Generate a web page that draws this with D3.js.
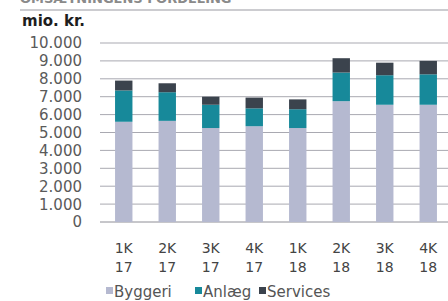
<html>
<head>
  <title>Omsætning - stablede søjler</title>
  <script src="https://d3js.org/d3.v7.min.js"></script>
  <style>
    body {
      margin: 0;
      background: #ffffff;
    }

    svg text {
      font-family: "DejaVu Sans", sans-serif;
    }
  </style>
</head>

<body>
  <svg id="chart" width="448" height="301"></svg>

  <script>
    // data (mio. kr.)
    const quarters = ["1K", "2K", "3K", "4K", "1K", "2K", "3K", "4K"];
    const years = ["17", "17", "17", "17", "18", "18", "18", "18"];
    const byggeri = [5600, 5650, 5250, 5350, 5250, 6750, 6550, 6550];
    const anlaeg = [1750, 1600, 1300, 1000, 1050, 1600, 1650, 1700];
    const services = [550, 500, 450, 600, 550, 800, 700, 750];
    const seriesNames = ["Byggeri", "Anlæg", "Services"];
    const yTicks = [0, 1000, 2000, 3000, 4000, 5000, 6000, 7000, 8000, 9000, 10000];

    const color = d3.scaleOrdinal()
      .domain(seriesNames)
      .range(["#b5b9d0", "#17899a", "#3b434d"]);

    const svg = d3.select("#chart");

    // build rows for the stack
    const rows = quarters.map((q, i) => ({
      key: i,
      Byggeri: byggeri[i],
      "Anlæg": anlaeg[i],
      Services: services[i]
    }));
    const stacked = d3.stack().keys(seriesNames)(rows);

    const x = d3.scaleBand()
      .domain(d3.range(quarters.length))
      .range([102, 450])
      .paddingInner(0.6)
      .paddingOuter(0.3);

    const y = d3.scaleLinear()
      .domain([0, 10000])
      .range([222, 43]);

    // heading, mostly cut off at the top like in the scan
    svg.append("text")
      .attr("x", 20)
      .attr("y", 3)
      .attr("font-size", "13px")
      .attr("font-weight", "bold")
      .attr("fill", "#8a8a8a")
      .text("OMSÆTNINGENS FORDELING");

    svg.append("line")
      .attr("x1", 20)
      .attr("x2", 448)
      .attr("y1", 10)
      .attr("y2", 10)
      .attr("stroke", "#9a9aa2")
      .attr("stroke-width", 1.2);

    svg.append("text")
      .attr("x", 22)
      .attr("y", 26)
      .attr("font-size", "15px")
      .attr("font-weight", "bold")
      .attr("fill", "#1e1e1e")
      .text("mio. kr.");

    // gridlines
    svg.append("g")
      .selectAll("line")
      .data(yTicks)
      .join("line")
      .attr("x1", 100)
      .attr("x2", 448)
      .attr("y1", d => y(d))
      .attr("y2", d => y(d))
      .attr("stroke", d => d === 0 ? "#8e8e96" : "#a9a9b1")
      .attr("stroke-width", 1);

    // y axis labels
    const fmt = d3.formatLocale({ decimal: ",", thousands: ".", grouping: [3], currency: ["", " kr."] }).format(",");
    svg.append("g")
      .selectAll("text")
      .data(yTicks)
      .join("text")
      .attr("x", 82)
      .attr("y", d => y(d))
      .attr("dy", "0.36em")
      .attr("text-anchor", "end")
      .attr("font-size", "15px")
      .attr("fill", "#5a5a5a")
      .text(d => fmt(d));

    // bars
    svg.append("g")
      .selectAll("g")
      .data(stacked)
      .join("g")
      .attr("fill", d => color(d.key))
      .selectAll("rect")
      .data(d => d)
      .join("rect")
      .attr("x", d => x(d.data.key))
      .attr("y", d => y(d[1]))
      .attr("width", x.bandwidth())
      .attr("height", d => y(d[0]) - y(d[1]));

    // x labels, two lines
    const xl = svg.append("g")
      .selectAll("text")
      .data(quarters)
      .join("text")
      .attr("text-anchor", "middle")
      .attr("font-size", "14px")
      .attr("fill", "#444444");
    xl.append("tspan")
      .attr("x", (d, i) => x(i) + x.bandwidth() / 2)
      .attr("y", 253)
      .text(d => d);
    xl.append("tspan")
      .attr("x", (d, i) => x(i) + x.bandwidth() / 2)
      .attr("y", 272)
      .text((d, i) => years[i]);

    // legend
    const legendX = [106, 195, 259];
    const legend = svg.append("g")
      .selectAll("g")
      .data(seriesNames)
      .join("g")
      .attr("transform", (d, i) => `translate(${legendX[i]}, 297)`);
    legend.append("rect")
      .attr("x", 0)
      .attr("y", -10)
      .attr("width", 7)
      .attr("height", 7)
      .attr("fill", d => color(d));
    legend.append("text")
      .attr("x", 8)
      .attr("y", 0)
      .attr("font-size", "15px")
      .attr("fill", "#555555")
      .text(d => d);
  </script>
</body>

</html>
